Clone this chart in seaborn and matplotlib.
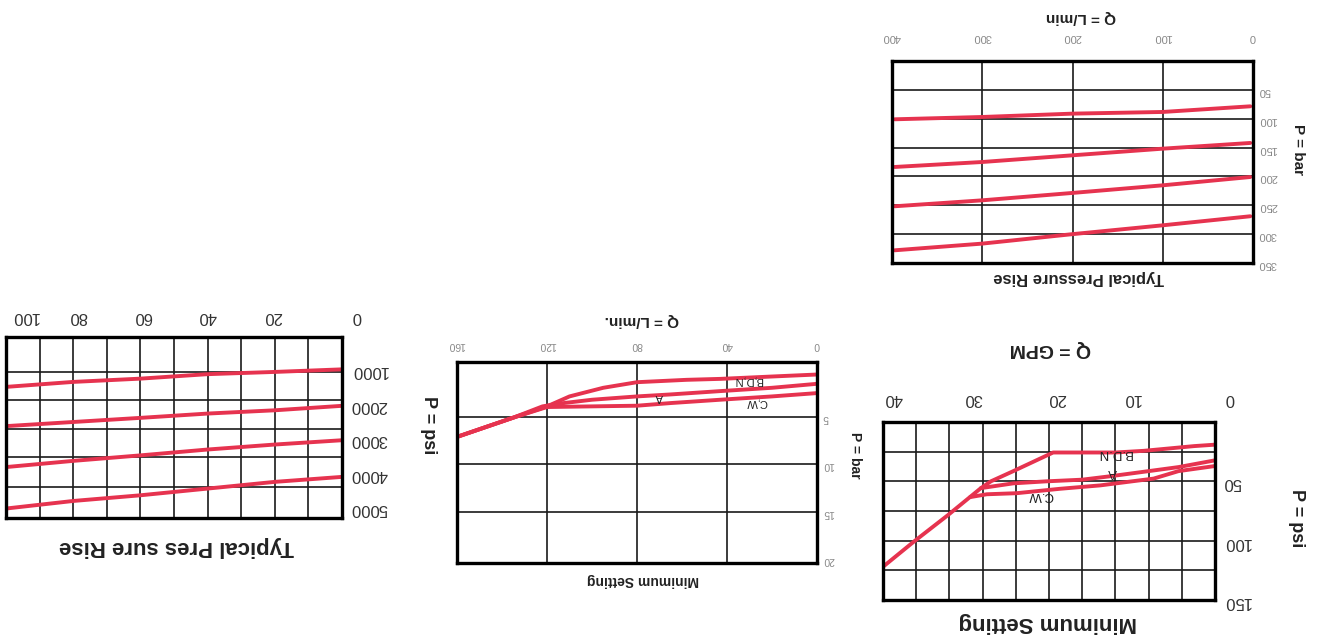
import pandas as pd
import matplotlib
matplotlib.use("Agg")
import matplotlib.pyplot as plt
import matplotlib.transforms as mtransforms
import seaborn as sns

# Typical pressure rise, psi vs GPM
rise_gpm = [0, 20, 40, 60, 80, 100]
rise_psi_1000 = [1000, 1075, 1140, 1270, 1365, 1510]
rise_psi_2000 = [2060, 2190, 2285, 2410, 2530, 2650]
rise_psi_3000 = [3060, 3185, 3330, 3500, 3660, 3840]
rise_psi_4000 = [4125, 4270, 4465, 4660, 4825, 5045]

# Minimum setting, bar vs L/min
min_lpm_bdn = [0, 20, 43, 58, 80, 95, 110, 120, 135, 160]
min_bar_bdn = [0.52, 0.73, 0.98, 1.08, 1.33, 1.92, 2.83, 3.88, 5.07, 7.1]
min_lpm_a = [0, 20, 43, 65, 80, 100, 115, 122, 135, 160]
min_bar_a = [1.5, 1.92, 2.27, 2.62, 2.83, 3.18, 3.6, 3.88, 5.07, 7.1]
min_lpm_cw = [0, 20, 43, 65, 80, 100, 120, 135, 160]
min_bar_cw = [2.48, 2.83, 3.18, 3.53, 3.81, 3.88, 3.95, 5.07, 7.1]

# Minimum setting, psi vs GPM
min_gpm_bdn = [0, 2.5, 8.6, 12, 19.5, 21, 24.3, 27, 28.2, 32.2, 36.3, 40]
min_psi_bdn = [19.1, 20.3, 24.3, 25.7, 25.7, 30.6, 41.4, 50, 55.7, 78.6, 100.9, 122]
min_gpm_a = [0, 4.4, 8, 12.6, 16, 20.3, 24.3, 27.5, 28.2]
min_psi_a = [32.3, 38, 41.4, 45.7, 48.6, 50, 51.7, 55, 55.7]
min_gpm_cw = [0, 4.4, 7.4, 10, 13.8, 18.7, 23.9, 27.5, 29.5]
min_psi_cw = [37.1, 41.4, 47.7, 50, 53.4, 56.3, 60, 60.9, 63.3]

# Typical pressure rise, bar vs L/min
rise_lpm = [3, 100, 200, 300, 397]
rise_bar_a = [78.5, 88.3, 91.2, 97, 101]
rise_bar_b = [142, 151.9, 163.4, 175, 183.6]
rise_bar_c = [201, 215.4, 228.6, 241.4, 251.7]
rise_bar_d = [269, 284.7, 300, 316.4, 328]


def long_df(pairs):
    rows = []
    for name, xs, ys in pairs:
        for x, y in zip(xs, ys):
            rows.append({"curve": name, "q": x, "p": y})
    return pd.DataFrame(rows)


df1 = long_df([("1", rise_gpm, rise_psi_1000), ("2", rise_gpm, rise_psi_2000),
               ("3", rise_gpm, rise_psi_3000), ("4", rise_gpm, rise_psi_4000)])
df2 = long_df([("bdn", min_lpm_bdn, min_bar_bdn), ("a", min_lpm_a, min_bar_a),
               ("cw", min_lpm_cw, min_bar_cw)])
df3 = long_df([("bdn", min_gpm_bdn, min_psi_bdn), ("a", min_gpm_a, min_psi_a),
               ("cw", min_gpm_cw, min_psi_cw)])
df4 = long_df([("a", rise_lpm, rise_bar_a), ("b", rise_lpm, rise_bar_b),
               ("c", rise_lpm, rise_bar_c), ("d", rise_lpm, rise_bar_d)])

sns.set_style("white")
plt.rcParams["font.family"] = ["Liberation Sans", "DejaVu Sans"]

RED = "#e6334f"
W, H = 1328, 643
fig = plt.figure(figsize=(13.28, 6.43), dpi=100)


def panel(box, df, xlim, ylim, xlabels, ylabels, xgrid, ygrid, size, color, xpad, ypad,
          xshift=None):
    l, t, r, b = box
    ax = fig.add_axes([l / W, 1 - b / H, (r - l) / W, (b - t) / H])
    sns.lineplot(data=df, x="q", y="p", units="curve", estimator=None, sort=False,
                 color=RED, lw=2.8, ax=ax)
    # the scan is rotated 180 degrees: flip both axes
    ax.set_xlim(xlim[1], xlim[0])
    ax.set_ylim(ylim[1], ylim[0])
    ax.xaxis.remove_overlapping_locs = False
    ax.yaxis.remove_overlapping_locs = False
    ax.set_xticks(xlabels)
    ax.set_yticks(ylabels)
    ax.set_xticks(xgrid, minor=True)
    ax.set_yticks(ygrid, minor=True)
    ax.xaxis.tick_top()
    ax.yaxis.tick_right()
    ax.tick_params(which="both", length=0)
    ax.tick_params(axis="x", pad=xpad)
    ax.tick_params(axis="y", pad=ypad)
    ax.tick_params(labelrotation=180, labelsize=size, labelcolor=color)
    ax.grid(which="minor", color="#1a1a1a", lw=1.2)
    ax.grid(which="major", visible=False)
    ax.set_xlabel("")
    ax.set_ylabel("")
    for s in ax.spines.values():
        s.set_visible(True)
        s.set_linewidth(2.4)
        s.set_color("black")
    # scan has its tick labels a little off their grid lines
    if xshift:
        for tick, dx in zip(ax.xaxis.get_major_ticks(), xshift):
            lab = tick.label2
            lab.set_transform(lab.get_transform() +
                              mtransforms.ScaledTranslation(dx / 100, 0, fig.dpi_scale_trans))
    return ax


def ftext(x, y, s, **kw):
    fig.text(x / W, 1 - y / H, s, ha="center", va="center", **kw)


ax1 = panel((6, 337, 342, 518), df1, (0, 100), (60, 5320),
            list(range(0, 101, 20)), [1000, 2000, 3000, 4000, 5000],
            list(range(0, 101, 10)), [1075, 1900, 2720, 3545, 4415],
            12, "#333333", 9.5, 6, xshift=[15, -2, 0, 2, 5, 19])
ax2 = panel((457, 362, 817, 563), df2, (0, 160), (-0.8, 20.4),
            [0, 40, 80, 120, 160], [5, 10, 15, 20],
            [40, 80, 120], [5, 10, 15],
            7.5, "#888888", 9, 4)
ax3 = panel((883, 422, 1215, 600), df3, (0, 40), (0, 150),
            [0, 10, 20, 30, 40], [50, 100, 150],
            list(range(0, 41, 4)), list(range(0, 151, 25)),
            12, "#333333", 11.5, 6, xshift=[15, 0, 8, 7, 10])
ax4 = panel((892, 61, 1253, 263), df4, (0, 400), (0, 350),
            [0, 100, 200, 300, 400], [50, 100, 150, 200, 250, 300, 350],
            [100, 200, 300], [50, 100, 150, 200, 250, 300],
            8, "#888888", 14, 4)

# curve labels
for ax, size, labels in [
    (ax2, 8, [(30.6, 1.15, "B,D,N"), (70, 2.9, "A"), (27, 3.43, "C,W")]),
    (ax3, 9.5, [(12.2, 26.5, "B.D.N"), (12.4, 42, "A"), (21, 61.4, "C.W")]),
]:
    for x, y, s in labels:
        ax.text(x, y, s, rotation=180, ha="center", va="center", fontsize=size, color="#222222")

# titles and axis names, all upside down like the scan
ftext(177, 546, "Typical Pres sure Rise", rotation=180, fontsize=16, fontweight="bold", color="#222222")
ftext(428, 425, "P = psi", rotation=270, fontsize=13, fontweight="bold", color="#222222")
ftext(643, 580, "Minimum Setting", rotation=180, fontsize=10, fontweight="bold", color="#222222")
ftext(642, 320, "Q = L/min.", rotation=180, fontsize=11, fontweight="bold", color="#222222")
ftext(855, 455, "P = bar", rotation=270, fontsize=10, fontweight="bold", color="#222222")
ftext(1048, 623, "Minimum Setting", rotation=180, fontsize=16, fontweight="bold", color="#222222")
ftext(1297, 518, "P = psi", rotation=270, fontsize=13, fontweight="bold", color="#222222")
ftext(1050, 349, "Q = GPM", rotation=180, fontsize=14, fontweight="bold", color="#222222")
ftext(1079, 278, "Typical Pressure Rise", rotation=180, fontsize=12, fontweight="bold", color="#222222")
ftext(1081, 17, "Q = L/min", rotation=180, fontsize=11, fontweight="bold", color="#222222")
ftext(1298, 150, "P = bar", rotation=270, fontsize=11, fontweight="bold", color="#222222")

fig.savefig("out.png", dpi=100, facecolor="white")
